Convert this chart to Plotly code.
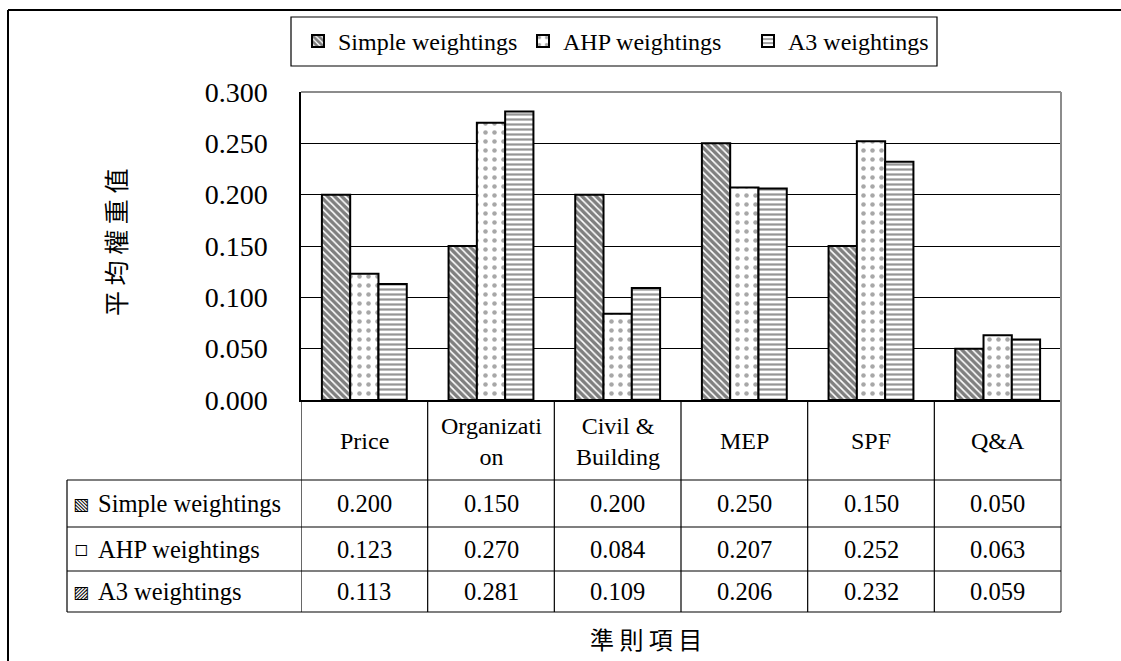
import plotly.graph_objects as go

# ---- data ----
categories = ["Price", "Organization", "Civil & Building", "MEP", "SPF", "Q&A"]
header_labels = ["Price", "Organizati<br>on", "Civil &<br>Building", "MEP", "SPF", "Q&A"]
series_names = ["Simple weightings", "AHP weightings", "A3 weightings"]
simple_w = [0.200, 0.150, 0.200, 0.250, 0.150, 0.050]
ahp_w = [0.123, 0.270, 0.084, 0.207, 0.252, 0.063]
a3_w = [0.113, 0.281, 0.109, 0.206, 0.232, 0.059]
y_tick_vals = [0.000, 0.050, 0.100, 0.150, 0.200, 0.250, 0.300]
y_title = "平均權重值"
x_title = "準則項目"

# ---- page geometry (pixels) ----
W, H = 1121, 661
ML, MR, MT, MB = 301, 60, 92, 261
PW, PH = W - ML - MR, H - MT - MB
SERIF = "Liberation Serif"
CJK = "Noto Sans CJK TC"


def px_x(x):
    return (x - ML) / PW


def px_y(y):
    return (H - MB - y) / PH


patterns = [
    dict(shape="\\", fgcolor="#000000", bgcolor="#ffffff", size=5, solidity=0.68, fillmode="overlay"),
    dict(shape=".", fgcolor="#4f4f4f", bgcolor="#ffffff", size=9, solidity=0.2, fillmode="overlay"),
    dict(shape="-", fgcolor="#2e2e2e", bgcolor="#ffffff", size=5, solidity=0.45, fillmode="overlay"),
]
series_values = [simple_w, ahp_w, a3_w]
key_glyphs = ["▧", "◻", "▨"]

fig = go.Figure()
for name, vals, pat in zip(series_names, series_values, patterns):
    fig.add_trace(go.Bar(
        x=categories, y=vals, name=name,
        marker=dict(color="#ffffff", pattern=pat, line=dict(color="#000000", width=2)),
    ))

shapes = []
annotations = []

# outer frame (top and left edges)
shapes.append(dict(type="line", xref="paper", yref="paper", x0=px_x(8), x1=px_x(W + 5),
                   y0=px_y(10), y1=px_y(10), line=dict(color="#000", width=2)))
shapes.append(dict(type="line", xref="paper", yref="paper", x0=px_x(8), x1=px_x(8),
                   y0=px_y(10), y1=px_y(H + 5), line=dict(color="#000", width=2)))

# plot area top / right border
shapes.append(dict(type="line", xref="paper", yref="paper", x0=0, x1=1, y0=1, y1=1,
                   line=dict(color="#8c8c8c", width=2)))
shapes.append(dict(type="line", xref="paper", yref="paper", x0=1, x1=1, y0=px_y(612), y1=1,
                   line=dict(color="#8c8c8c", width=2)))

# legend box
shapes.append(dict(type="rect", xref="paper", yref="paper", x0=px_x(291), x1=px_x(937),
                   y0=px_y(66), y1=px_y(17), line=dict(color="#000", width=1.2)))

# data table grid
row_edges = [480, 527, 571, 612]
for yy in row_edges:
    shapes.append(dict(type="line", xref="paper", yref="paper", x0=px_x(67), x1=1,
                       y0=px_y(yy), y1=px_y(yy), line=dict(color="#000", width=1.2)))
shapes.append(dict(type="line", xref="paper", yref="paper", x0=px_x(67), x1=px_x(67),
                   y0=px_y(480), y1=px_y(612), line=dict(color="#000", width=1.2)))
for i in range(len(categories)):
    shapes.append(dict(type="line", xref="x", yref="paper", x0=i - 0.5, x1=i - 0.5,
                       y0=px_y(612), y1=0, line=dict(color="#000", width=1.2)))

# header row with category names
for cat, lab in zip(categories, header_labels):
    annotations.append(dict(x=cat, y=px_y(441), xref="x", yref="paper", text=lab,
                            showarrow=False, font=dict(family=SERIF, size=24, color="#000"),
                            xanchor="center", yanchor="middle", align="center"))

# value rows
row_centers = [503.5, 549, 591.5]
for name, vals, glyph, yc in zip(series_names, series_values, key_glyphs, row_centers):
    annotations.append(dict(x=px_x(81), y=px_y(yc), xref="paper", yref="paper", text=glyph,
                            showarrow=False, font=dict(family="DejaVu Sans", size=17, color="#000"),
                            xanchor="center", yanchor="middle"))
    annotations.append(dict(x=px_x(96), y=px_y(yc), xref="paper", yref="paper", text=name,
                            showarrow=False, font=dict(family=SERIF, size=24.5, color="#000"),
                            xanchor="left", yanchor="middle"))
    for cat, v in zip(categories, vals):
        annotations.append(dict(x=cat, y=px_y(yc), xref="x", yref="paper", text=f"{v:.3f}",
                                showarrow=False, font=dict(family=SERIF, size=24.5, color="#000"),
                                xanchor="center", yanchor="middle"))

# axis titles
annotations.append(dict(x=px_x(115), y=px_y(243), xref="paper", yref="paper",
                        text=" ".join(y_title), textangle=-90, showarrow=False,
                        font=dict(family=CJK, size=25, color="#000"),
                        xanchor="center", yanchor="middle"))
annotations.append(dict(x=px_x(646), y=px_y(638), xref="paper", yref="paper",
                        text=" ".join(x_title), showarrow=False,
                        font=dict(family=CJK, size=24, color="#000"),
                        xanchor="center", yanchor="middle"))

fig.update_layout(
    width=W, height=H,
    margin=dict(l=ML, r=MR, t=MT, b=MB, pad=0),
    paper_bgcolor="#ffffff", plot_bgcolor="#ffffff",
    barmode="group", bargap=0.33, bargroupgap=0,
    font=dict(family=SERIF, color="#000"),
    showlegend=True,
    legend=dict(orientation="h", x=px_x(298), y=px_y(41.5), xanchor="left", yanchor="middle",
                font=dict(family=SERIF, size=24, color="#000"), bgcolor="rgba(0,0,0,0)",
                borderwidth=0, entrywidth=180, entrywidthmode="pixels", traceorder="normal"),
    shapes=shapes,
    annotations=annotations,
)
fig.update_xaxes(showticklabels=False, ticks="", showgrid=False, zeroline=False,
                 showline=True, linecolor="#000", linewidth=1.5, range=[-0.5, 5.5])
fig.update_yaxes(range=[0, 0.3], tickvals=y_tick_vals, tickformat=".3f", showgrid=True,
                 gridcolor="#000", gridwidth=1.2, zeroline=False, showline=True,
                 linecolor="#000", linewidth=1.5, ticks="inside", ticklen=8, tickcolor="#000",
                 tickfont=dict(family=SERIF, size=28, color="#000"), ticklabelstandoff=26)

fig.write_html("out.html")
